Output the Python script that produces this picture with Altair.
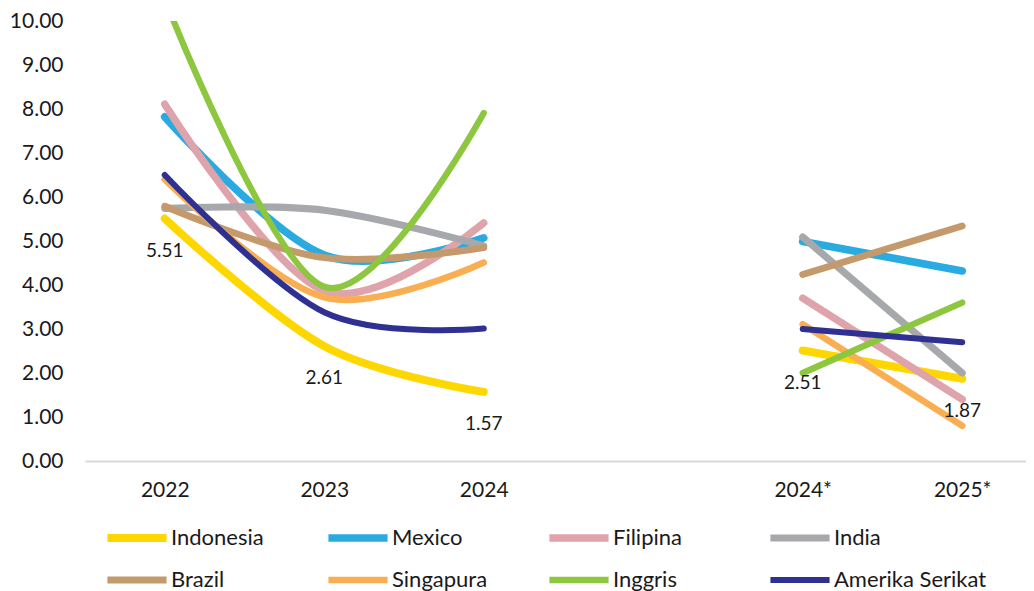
import altair as alt
import pandas as pd

# ---- data ----
series = ["Indonesia", "Mexico", "Filipina", "India",
          "Brazil", "Singapura", "Inggris", "Amerika Serikat"]
colors = ["#FFD700", "#29ABE2", "#DFA3AB", "#A7A8AB",
          "#C49A6C", "#F9AE52", "#8DC63F", "#2E3192"]
widths = [8, 6, 6, 6, 6, 6, 6, 6]

x_pos = [0, 1, 2, 4, 5]
x_labels = ["2022", "2023", "2024", "2024*", "2025*"]
segment = ["Realisasi", "Realisasi", "Realisasi", "Proyeksi", "Proyeksi"]

indonesia = [5.51, 2.61, 1.57, 2.51, 1.87]
mexico = [7.82, 4.68, 5.07, 4.99, 4.32]
filipina = [8.11, 3.87, 5.41, 3.70, 1.40]
india = [5.74, 5.70, 4.89, 5.09, 2.00]
brazil = [5.79, 4.62, 4.85, 4.24, 5.34]
singapura = [6.40, 3.72, 4.51, 3.11, 0.80]
inggris = [10.50, 3.96, 7.91, 2.00, 3.60]
amerika = [6.50, 3.38, 3.01, 3.00, 2.70]

y_ticks = [0, 1, 2, 3, 4, 5, 6, 7, 8, 9, 10]
labelled_series = "Indonesia"

all_values = [indonesia, mexico, filipina, india, brazil, singapura, inggris, amerika]

rows = []
for s, vals in zip(series, all_values):
    for xp, xl, sg, v in zip(x_pos, x_labels, segment, vals):
        rows.append({"series": s, "x": xp, "year": xl, "seg": sg, "value": v})
df = pd.DataFrame(rows)

label_map = "{" + ",".join(f"'{p}':'{l}'" for p, l in zip(x_pos, x_labels)) + "}"

x_enc = alt.X(
    "x:Q",
    scale=alt.Scale(domain=[-0.5, 5.4], nice=False, zero=False),
    axis=alt.Axis(values=x_pos, labelExpr=f"{label_map}[''+datum.value]",
                  title=None, ticks=False, tickSize=0, grid=False,
                  domainColor="#D9D9D9", domainWidth=2, labelPadding=18),
)
y_enc = alt.Y(
    "value:Q",
    scale=alt.Scale(domain=[0, 10], nice=False),
    axis=alt.Axis(values=y_ticks, format=".2f", title=None, domain=False,
                  ticks=False, tickSize=0, grid=False, labelPadding=22),
)

lines = alt.Chart(df).mark_line(
    interpolate="cardinal", strokeCap="round", strokeJoin="round", clip=True
).encode(
    x=x_enc,
    y=y_enc,
    color=alt.Color(
        "series:N",
        scale=alt.Scale(domain=series, range=colors),
        sort=series,
        legend=alt.Legend(
            title=None, orient="none", legendX=18, legendY=506,
            direction="horizontal",
            columns=4, symbolType="stroke", symbolSize=3500,
            symbolStrokeWidth=7, clipHeight=22, gridAlign="all",
            columnPadding=0, rowPadding=20, labelOffset=0,
            labelFont="Lato", labelFontSize=22, labelColor="#1a1a1a",
        ),
    ),
    strokeWidth=alt.StrokeWidth(
        "series:N", scale=alt.Scale(domain=series, range=widths), legend=None
    ),
    detail="seg:N",
)

labels = alt.Chart(df).transform_filter(
    alt.datum.series == labelled_series
).mark_text(dy=32, font="Lato", fontSize=19, color="#1a1a1a").encode(
    x=alt.X("x:Q"),
    y=alt.Y("value:Q"),
    text=alt.Text("value:Q", format=".2f"),
)

chart = alt.layer(lines, labels).properties(
    width=941, height=440, autosize="none",
    padding={"left": 77, "top": 13, "right": 0, "bottom": 130},
).configure_view(stroke=None).configure_axis(
    labelFont="Lato", labelFontSize=21, labelColor="#1a1a1a"
)

chart.save("out.html", embed_options={"renderer": "svg", "actions": False})
